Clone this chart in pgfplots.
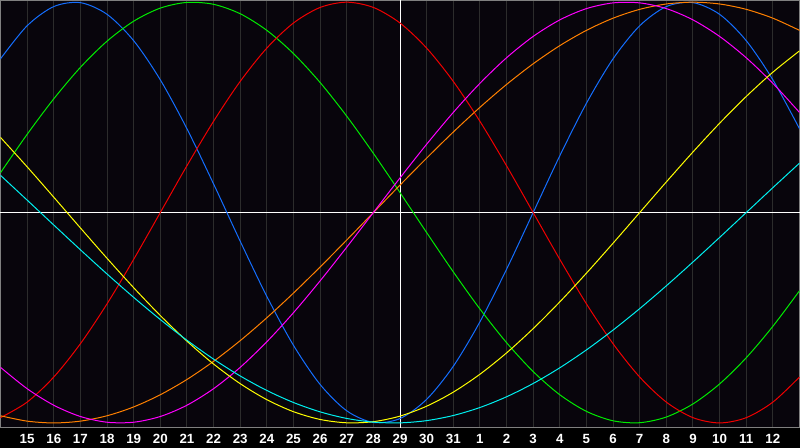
\documentclass[border=0pt]{standalone}
\usepackage{pgfplots}
\usepackage{pgfplotstable}
\usepackage{fontspec}
\setmainfont{Liberation Sans}
\pgfplotsset{compat=1.18}
\definecolor{plotbg}{RGB}{8,5,12}
\definecolor{framegray}{RGB}{128,128,128}
\definecolor{gridgray}{RGB}{44,44,44}
\definecolor{cblue}{RGB}{20,110,255}
\definecolor{cgreen}{RGB}{0,235,0}
\definecolor{cred}{RGB}{240,0,0}
\definecolor{cmagenta}{RGB}{255,0,255}
\definecolor{corange}{RGB}{255,128,0}
\definecolor{cyellow}{RGB}{255,255,0}
\definecolor{ccyan}{RGB}{0,240,240}
\pgfplotstableread{
i blue red green magenta yellow orange cyan
-1 0.7308 -0.9749 0.1893 -0.7357 0.3572 -0.9659 0.1769
0 0.8879 -0.9010 0.3717 -0.8372 0.2174 -0.9914 0.0592
1 0.9791 -0.7818 0.5406 -0.9158 0.0730 -1 -0.0592
2 0.9977 -0.6235 0.6901 -0.9694 -0.0730 -0.9914 -0.1769
3 0.9423 -0.4339 0.8146 -0.9966 -0.2174 -0.9659 -0.2920
4 0.8170 -0.2225 0.9096 -0.9966 -0.3572 -0.9239 -0.4031
5 0.6310 0 0.9718 -0.9694 -0.4894 -0.8660 -0.5085
6 0.3984 0.2225 0.9989 -0.9158 -0.6112 -0.7934 -0.6068
7 0.1362 0.4339 0.9898 -0.8372 -0.7200 -0.7071 -0.6966
8 -0.1362 0.6235 0.9450 -0.7357 -0.8133 -0.6088 -0.7767
9 -0.3984 0.7818 0.8660 -0.6142 -0.8894 -0.5 -0.8457
10 -0.6310 0.9010 0.7557 -0.4759 -0.9465 -0.3827 -0.9028
11 -0.8170 0.9749 0.6182 -0.3247 -0.9834 -0.2588 -0.9473
12 -0.9423 1 0.4582 -0.1646 -0.9993 -0.1305 -0.9786
13 -0.9977 0.9749 0.2817 0 -0.9940 0 -0.9960
14 -0.9791 0.9010 0.0951 0.1646 -0.9675 0.1305 -0.9996
15 -0.8879 0.7818 -0.0951 0.3247 -0.9204 0.2588 -0.9890
16 -0.7308 0.6235 -0.2817 0.4759 -0.8536 0.3827 -0.9646
17 -0.5196 0.4339 -0.4582 0.6142 -0.7686 0.5 -0.9267
18 -0.2698 0.2225 -0.6182 0.7357 -0.6672 0.6088 -0.8757
19 0 0 -0.7557 0.8372 -0.5517 0.7071 -0.8125
20 0.2698 -0.2225 -0.8660 0.9158 -0.4245 0.7934 -0.7378
21 0.5196 -0.4339 -0.9450 0.9694 -0.2881 0.8660 -0.6528
22 0.7308 -0.6235 -0.9898 0.9966 -0.1456 0.9239 -0.5585
23 0.8879 -0.7818 -0.9989 0.9966 0 0.9659 -0.4566
24 0.9791 -0.9010 -0.9718 0.9694 0.1456 0.9914 -0.3482
25 0.9977 -0.9749 -0.9096 0.9158 0.2881 1 -0.2349
26 0.9423 -1 -0.8146 0.8372 0.4245 0.9914 -0.1183
27 0.8170 -0.9749 -0.6901 0.7357 0.5517 0.9659 0
28 0.6310 -0.9010 -0.5406 0.6142 0.6672 0.9239 0.1183
29 0.3984 -0.7818 -0.3717 0.4759 0.7686 0.8660 0.2349
}\data
\begin{document}
\begin{tikzpicture}[x=1pt,y=1pt]
\fill[black] (0,0) rectangle (600,336);
\begin{scope}[overlay]
\begin{axis}[
  at={(0.375pt,335.625pt)}, anchor=north west,
  scale only axis, width=599.25pt, height=320.625pt,
  xmin=-1, xmax=29, ymin=-1.024, ymax=1.008,
  axis background/.style={fill=plotbg},
  axis line style={draw=framegray, line width=0.75pt},
  xtick={0,...,28},
  xticklabels={15,16,17,18,19,20,21,22,23,24,25,26,27,28,29,30,31,1,2,3,4,5,6,7,8,9,10,11,12},
  ytick=\empty,
  major tick length=0pt,
  xmajorgrids,
  grid style={draw=gridgray, line width=0.75pt},
  extra x ticks={14}, extra x tick labels={},
  extra x tick style={grid=major, grid style={draw=white, line width=0.75pt}},
  extra y ticks={0}, extra y tick labels={},
  extra y tick style={grid=major, grid style={draw=white, line width=0.75pt}},
  xticklabel style={anchor=base, yshift=-11.8pt, text=white, font=\bfseries\fontsize{10}{12}\selectfont},
  every axis plot/.append style={line width=0.75pt, smooth, no markers},
]
\addplot[cblue] table[x=i, y=blue] {\data};
\addplot[cgreen] table[x=i, y=green] {\data};
\addplot[cred] table[x=i, y=red] {\data};
\addplot[corange] table[x=i, y=orange] {\data};
\addplot[cmagenta] table[x=i, y=magenta] {\data};
\addplot[cyellow] table[x=i, y=yellow] {\data};
\addplot[ccyan] table[x=i, y=cyan] {\data};
\end{axis}
\end{scope}
\end{tikzpicture}
\end{document}
